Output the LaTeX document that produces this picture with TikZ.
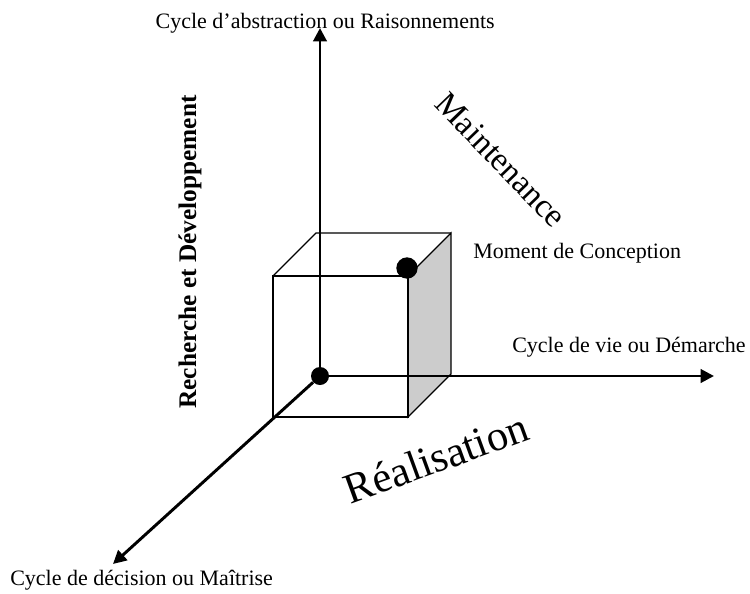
\documentclass[tikz,border=0pt]{standalone}
\usepackage{fontspec}
\setmainfont{Liberation Serif}
\usetikzlibrary{arrows.meta}
\begin{document}
\begin{tikzpicture}[x=0.75pt, y=-0.75pt, >={Triangle[length=10pt,width=10pt]},
    axis/.style={line width=2.2pt, ->},
    edge/.style={line width=0.9pt},
    dot/.style={circle, fill=black, inner sep=0pt, minimum size=#1},
    lbl/.style={font=\fontsize{16.5}{19}\selectfont, inner sep=0pt}]
    \useasboundingbox (0,0) rectangle (750,593);

    % Cube corners
    \coordinate (A) at (273,417);
    \coordinate (B) at (408,417);
    \coordinate (C) at (408,276);
    \coordinate (D) at (273,276);
    \coordinate (E) at (316,233);
    \coordinate (F) at (451,233);
    \coordinate (G) at (451,374);

    % Shaded side, front face and top
    \filldraw[edge, fill=black!20] (B) -- (G) -- (F) -- (C) -- cycle;
    \draw[edge] (A) rectangle (C);
    \draw[edge] (D) -- (E) -- (F);

    % Axes
    \node[dot=13.5pt] (O) at (320,376) {};
    \coordinate (up) at (320,28);
    \coordinate (right) at (714,376);
    \coordinate (down) at (113,564);
    \draw[axis] (O) -- (up);
    \draw[axis] (O) -- (right);
    \draw[axis] (O) -- (down);

    % Design moment
    \node[dot=16pt] (moment) at (407,268) {};

    % Axis labels
    \node[lbl, anchor=east] (abstraction) at (495,23) {Cycle d’abstraction ou Raisonnements};
    \node[lbl, anchor=west] (vie) at (512,347) {Cycle de vie ou Démarche};
    \node[lbl, anchor=west] (decision) at (10,580) {Cycle de décision ou Maîtrise};
    \node[lbl, anchor=west] (conception) at (473,253) {Moment de Conception};

    % Phases
    \node[font=\bfseries\fontsize{19}{21}\selectfont, rotate=90] (recherche) at (190,252) {Recherche et Développement};
    \node[font=\fontsize{25}{28}\selectfont, rotate=-46] (maintenance) at (501,160) {Maintenance};
    \node[font=\fontsize{32}{36}\selectfont, rotate=20] (realisation) at (436,458) {Réalisation};
\end{tikzpicture}
\end{document}
